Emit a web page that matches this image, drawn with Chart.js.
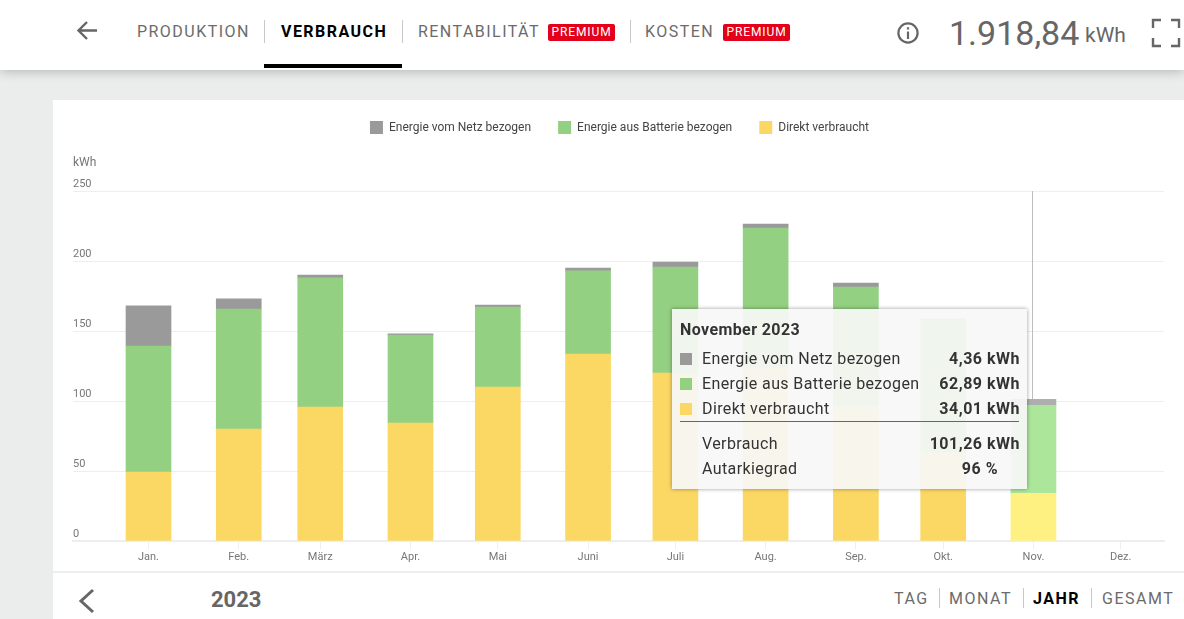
<!DOCTYPE html>
<html>
<head>
<meta charset="utf-8">
<script src="https://cdn.jsdelivr.net/npm/chart.js@4/dist/chart.umd.min.js"></script>
<style>
  html, body { margin: 0; padding: 0; }
  body { width: 1184px; height: 619px; overflow: hidden; position: relative; background: #ebedec; font-family: Roboto, sans-serif; }
  .abs { position: absolute; white-space: nowrap; }
  #header { left: 0; top: 0; width: 1184px; height: 70px; background: #fff; box-shadow: 0 2px 10px rgba(0,0,0,.22); }
  #card { left: 53px; top: 100px; width: 1131px; height: 519px; background: #fff; }
  #footerLine { left: 53px; top: 571px; width: 1131px; height: 2px; background: #eeeeee; }
  canvas { position: absolute; left: 53px; top: 94px; }
  .nav { top: 22px; font-size: 16px; line-height: 20px; letter-spacing: 1.46px; color: #6b6b6b; }
  .mode { top: 589px; font-size: 16px; line-height: 20px; letter-spacing: 1.5px; color: #6b6b6b; }
  .on { color: #000; font-weight: 700; }
  .sep { width: 1px; background: #c8c8c8; }
  .badge { top: 24px; height: 17px; line-height: 17px; background: #e2001a; color: #fff; font-size: 12px; letter-spacing: .9px; text-align: center; border-radius: 2px; }
  #tip { left: 672px; top: 309px; width: 355px; height: 180px; background: rgba(247,247,247,.92); box-shadow: 0 0 4px rgba(0,0,0,.4); color: #333; font-size: 16px; line-height: 20px; letter-spacing: .38px; }
  #tip .abs { line-height: 20px; }
  #tip .swatch { width: 12px; height: 12px; left: 8px; }
  #tip .val { right: 7px; font-weight: 700; letter-spacing: .5px; }
</style>
</head>
<body>
<div id="header" class="abs"></div>
<div id="card" class="abs"></div>
<div id="footerLine" class="abs"></div>

<svg class="abs" style="left:76px;top:20px" width="24" height="22" fill="none" stroke="#666" stroke-width="2.4"><path d="M21 10.5H3M11 2L2.5 10.5L11 19"/></svg>
<div class="abs nav" style="left:137px">PRODUKTION</div>
<div class="abs sep" style="left:264px;top:20px;height:23px"></div>
<div class="abs nav on" style="left:281px">VERBRAUCH</div>
<div class="abs sep" style="left:402px;top:20px;height:23px"></div>
<div class="abs nav" style="left:418px">RENTABILITÄT</div>
<div class="abs badge" style="left:548px;width:67px">PREMIUM</div>
<div class="abs sep" style="left:630px;top:20px;height:23px"></div>
<div class="abs nav" style="left:645px">KOSTEN</div>
<div class="abs badge" style="left:723px;width:67px">PREMIUM</div>
<div class="abs" style="left:264px;top:64px;width:138px;height:4px;background:#000"></div>

<svg class="abs" style="left:896px;top:21px" width="24" height="24" fill="none" stroke="#666" stroke-width="2.2"><circle cx="12" cy="12" r="9.6"/><path d="M12 10.5V18M12 6.2V8.6"/></svg>
<div class="abs" style="left:949px;top:12px;font-size:34px;line-height:42px;color:#666">1.918,84</div>
<div class="abs" style="left:1085px;top:22px;font-size:21px;line-height:26px;color:#666">kWh</div>
<svg class="abs" style="left:1151px;top:18px" width="30" height="30" fill="none" stroke="#666" stroke-width="2.4"><path d="M2 10V2H10M20 2H28V10M28 20V28H20M10 28H2V20"/></svg>

<canvas id="myChart" width="1135" height="477"></canvas>

<div class="abs" style="left:73px;top:155px;font-size:12px;line-height:15px;color:#777">kWh</div>

<div id="tip" class="abs"></div>

<svg class="abs" style="left:78px;top:588px" width="20" height="26" fill="none" stroke="#666" stroke-width="3"><path d="M15 2L3 13L15 24"/></svg>
<div class="abs" style="left:211px;top:587px;font-size:22px;line-height:26px;font-weight:700;color:#666">2023</div>
<div class="abs mode" style="left:894px">TAG</div>
<div class="abs sep" style="left:939px;top:588px;height:20px"></div>
<div class="abs mode" style="left:949px">MONAT</div>
<div class="abs sep" style="left:1023px;top:588px;height:20px"></div>
<div class="abs mode on" style="left:1033px">JAHR</div>
<div class="abs sep" style="left:1091px;top:588px;height:20px"></div>
<div class="abs mode" style="left:1102px">GESAMT</div>

<script>
const months = ["Jan.", "Feb.", "März", "Apr.", "Mai", "Juni", "Juli", "Aug.", "Sep.", "Okt.", "Nov.", "Dez."];
const monthDays = [31, 28, 31, 30, 31, 30, 31, 31, 30, 31, 30, 31];
const direkt = [49.3, 80, 95.7, 84.3, 110, 133.6, 120, 123.5, 95.9, 63, 34.01, null];
const batterie = [90, 85.7, 92.2, 62.8, 57, 59.3, 75.7, 100.1, 85.5, 95.2, 62.89, null];
const netz = [28.6, 7.2, 2.1, 0.9, 1.6, 2.1, 3.6, 2.8, 2.9, 0.4, 4.36, null];
const yTicks = [0, 50, 100, 150, 200, 250];
const hoverMonth = 10;

const labelNetz = "Energie vom Netz bezogen";
const labelBatterie = "Energie aus Batterie bezogen";
const labelDirekt = "Direkt verbraucht";
const autarkie = 96;

// the months sit on a day axis, february really is narrower in the original
const monthStart = [];
let dayCount = 0;
for (let i = 0; i < monthDays.length; i++) {
  monthStart.push(dayCount);
  dayCount += monthDays[i];
}

function points(values) {
  return values.map((v, i) => ({ x: monthStart[i], y: v }));
}

function barColor(normal, hover) {
  return (ctx) => (ctx.dataIndex === hoverMonth ? hover : normal);
}

const GREY = "#9b9a9a";
const GREEN = "#94d082";
const YELLOW = "#fbd864";

const cursorLine = {
  id: "cursorLine",
  beforeInit(chart) {
    // room between the legend and the plot
    const fit = chart.legend.fit;
    chart.legend.fit = function () {
      fit.call(this);
      this.height += 47;
    };
  },
  afterLayout(chart) {
    chart.legend.left += 1;
    chart.legend.right += 1;
  },
  // under the bars, the hovered bar hides it
  beforeDatasetsDraw(chart) {
    const x = chart.scales.x.getPixelForValue(monthStart[hoverMonth]);
    const c = chart.ctx;
    c.save();
    c.strokeStyle = "#bdbdbd";
    c.lineWidth = 1;
    c.beginPath();
    c.moveTo(Math.round(x) - 0.5, chart.chartArea.top);
    c.lineTo(Math.round(x) - 0.5, chart.chartArea.bottom);
    c.stroke();
    c.restore();
  },
};

new Chart(document.getElementById("myChart"), {
  type: "bar",
  plugins: [cursorLine],
  data: {
    datasets: [
      { label: labelDirekt, data: points(direkt), backgroundColor: barColor(YELLOW, "#fff082") },
      { label: labelBatterie, data: points(batterie), backgroundColor: barColor(GREEN, "#abe69a") },
      { label: labelNetz, data: points(netz), backgroundColor: barColor(GREY, "#aeaeae") },
    ],
  },
  options: {
    responsive: false,
    animation: false,
    events: [],
    barThickness: 45,
    layout: { padding: { left: 20, right: 24, top: 0, bottom: 5 } },
    plugins: {
      tooltip: { enabled: false },
      legend: {
        reverse: true,
        labels: {
          boxWidth: 13,
          boxHeight: 13,
          padding: 27,
          color: "#444",
          font: { family: "Roboto", size: 12 },
        },
      },
    },
    scales: {
      x: {
        type: "linear",
        stacked: true,
        offset: false,
        min: -25.94,
        max: 348.85,
        afterBuildTicks(scale) {
          scale.ticks = monthStart.map((v) => ({ value: v }));
        },
        grid: { offset: false, drawOnChartArea: false, color: "#eeeeee", tickLength: 8 },
        border: { color: "#eeeeee", width: 2 },
        ticks: {
          autoSkip: false,
          maxRotation: 0,
          padding: 3,
          color: "#777",
          font: { family: "Roboto", size: 11, lineHeight: 1 },
          callback: (v, i) => months[i],
        },
      },
      y: {
        stacked: true,
        min: 0,
        max: 250,
        afterBuildTicks(scale) {
          scale.ticks = yTicks.map((v) => ({ value: v }));
        },
        grid: { color: "#eeeeee", drawTicks: false },
        border: { display: false },
        ticks: {
          mirror: true,
          padding: 0,
          labelOffset: -7,
          color: "#777",
          font: { family: "Roboto", size: 11 },
        },
      },
    },
  },
});

// tooltip of the hovered month, stays open in the picture
function kwh(v) {
  return v.toLocaleString("de-DE", { minimumFractionDigits: 2, maximumFractionDigits: 2 }) + " kWh";
}

const tip = document.getElementById("tip");
const n = netz[hoverMonth];
const b = batterie[hoverMonth];
const d = direkt[hoverMonth];
const rows = [
  [labelNetz, kwh(n), GREY, 40],
  [labelBatterie, kwh(b), GREEN, 65],
  [labelDirekt, kwh(d), YELLOW, 90],
  ["Verbrauch", kwh(n + b + d), null, 125],
];
let html = '<div class="abs" style="left:8px;top:11px;font-weight:700;letter-spacing:.4px">November 2023</div>';
rows.forEach((r) => {
  if (r[2]) html += `<div class="abs swatch" style="top:${r[3] + 4}px;background:${r[2]}"></div>`;
  html += `<div class="abs" style="left:30px;top:${r[3]}px">${r[0]}</div>`;
  html += `<div class="abs val" style="top:${r[3]}px">${r[1]}</div>`;
});
html += '<div class="abs" style="left:8px;top:112px;width:339px;height:1px;background:#666"></div>';
html += '<div class="abs" style="left:30px;top:150px">Autarkiegrad</div>';
html += `<div class="abs val" style="top:150px;right:29px">${autarkie} %</div>`;
tip.innerHTML = html;
</script>
</body>
</html>
